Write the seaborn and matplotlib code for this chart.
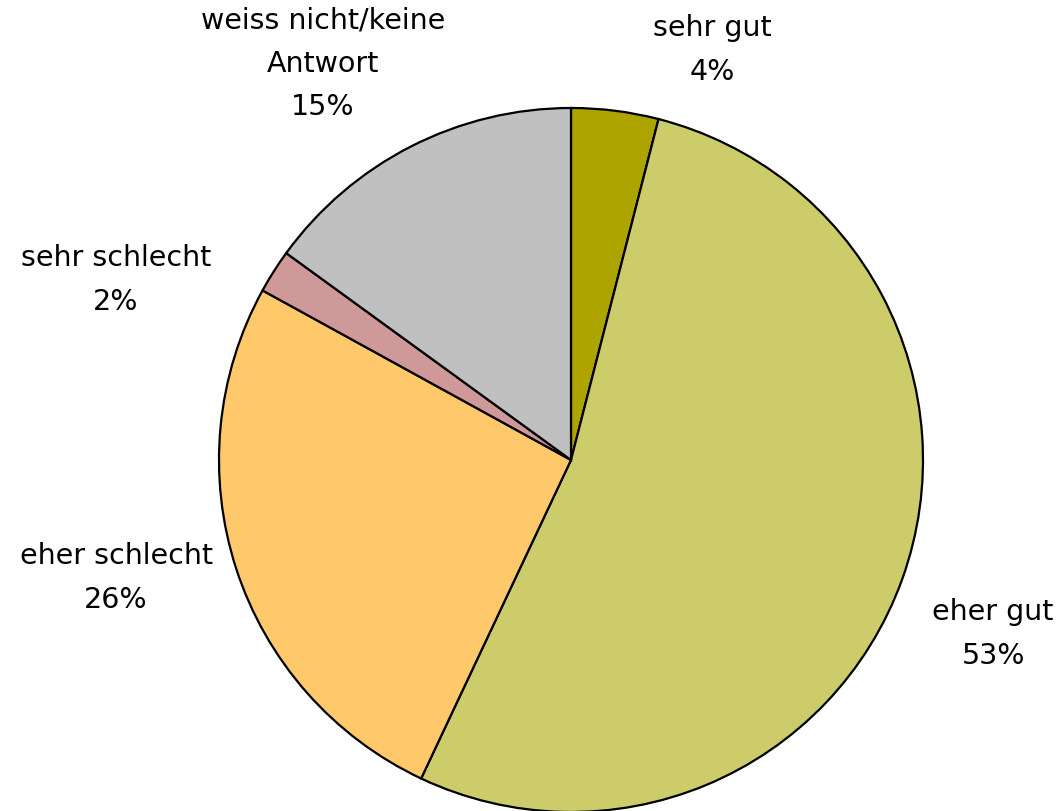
import matplotlib
matplotlib.use("Agg")
import matplotlib.pyplot as plt
import seaborn as sns

# Daten (Reihenfolge im Uhrzeigersinn ab 12 Uhr)
kategorien = ["sehr gut", "eher gut", "eher schlecht", "sehr schlecht", "weiss nicht/keine\nAntwort"]
anteile = [4, 53, 26, 2, 15]
farben = ["#ADA400", "#CCCC6A", "#FFC86A", "#D09999", "#C0C0C0"]

# Beschriftungspositionen (Pixel im Bild, Mittelpunkt des Textes)
label_pos = [(712, 50), (993, 634), (116, 578), (116, 280), (323, 64)]

sns.set_theme(style="white")
plt.rcParams["font.family"] = ["DejaVu Sans"]

W, H = 1059, 812
fig = plt.figure(figsize=(W / 100, H / 100), dpi=100)
cx, cy, r = 571, 461, 352
ax = fig.add_axes([(cx - r) / W, (H - cy - r) / H, 2 * r / W, 2 * r / H])

ax.pie(anteile, colors=farben, startangle=90, counterclock=False, radius=1,
       wedgeprops=dict(edgecolor="black", linewidth=1.6))
ax.set_xlim(-1, 1)
ax.set_ylim(-1, 1)
ax.set_aspect("equal")
ax.axis("off")

for name, wert, (px, py) in zip(kategorien, anteile, label_pos):
    fig.text(px / W, 1 - py / H, f"{name}\n{wert}%", ha="center", va="center",
             fontsize=20.5, linespacing=1.7, color="black")

fig.savefig("out.png", dpi=100)
